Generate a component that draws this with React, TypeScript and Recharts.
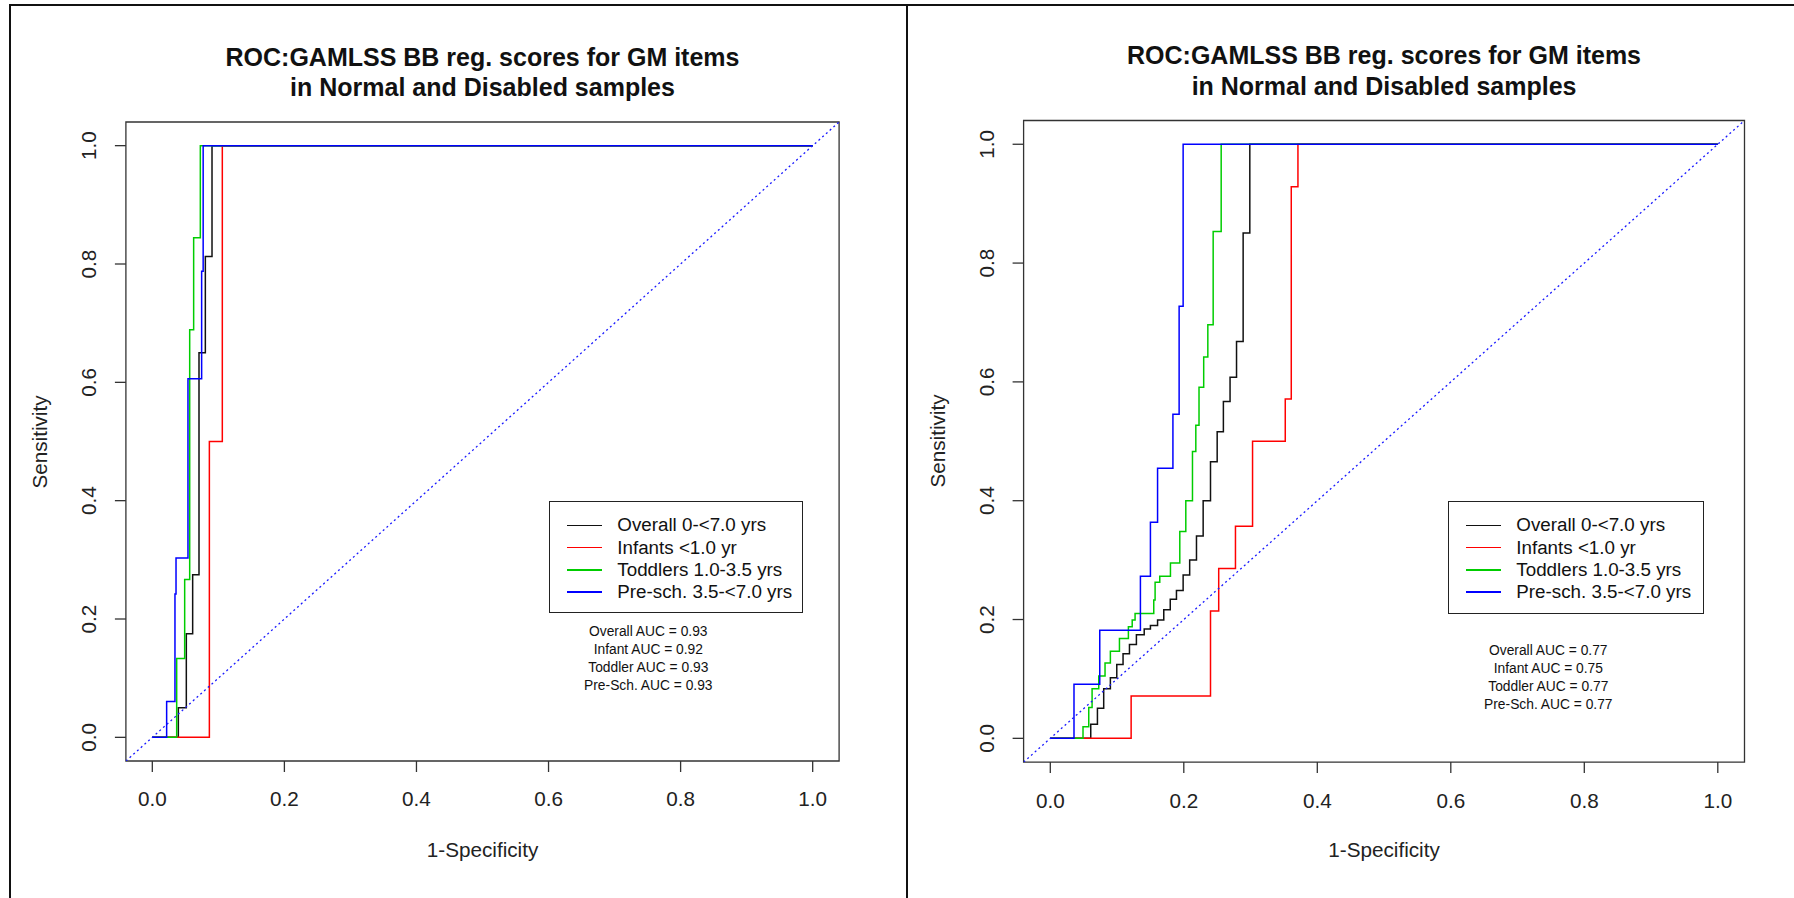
import React from "react";
import { LineChart, Line, XAxis, YAxis, ReferenceArea } from "recharts";

type Pt = [number, number];

const TICKS = [0, 0.2, 0.4, 0.6, 0.8, 1.0];
const SERIES_NAMES = ["Overall 0-<7.0 yrs", "Infants <1.0 yr", "Toddlers 1.0-3.5 yrs", "Pre-sch. 3.5-<7.0 yrs"];
const AUC_NAMES = ["Overall", "Infant", "Toddler", "Pre-Sch."];
const COLORS = ["#111111", "#ff0000", "#00cd00", "#0000ff"];
const TITLE = ["ROC:GAMLSS BB reg. scores for GM items", "in Normal and Disabled samples"];

// left panel: corner points of each ROC staircase (1-specificity, sensitivity)
const leftOverall: Pt[] = [[0, 0], [0.0394, 0.05], [0.0515, 0.175], [0.0611, 0.275], [0.0707, 0.65], [0.0803, 0.8125], [0.0904, 1], [1, 1]];
const leftInfants: Pt[] = [[0, 0], [0.0864, 0.5], [0.106, 1], [1, 1]];
const leftToddlers: Pt[] = [[0, 0], [0.0369, 0.1333], [0.049, 0.2667], [0.0566, 0.6889], [0.0626, 0.8444], [0.0727, 1], [1, 1]];
const leftPresch: Pt[] = [[0, 0], [0.0217, 0.0606], [0.0343, 0.2424], [0.0359, 0.303], [0.054, 0.6061], [0.0747, 0.7879], [0.077, 1], [1, 1]];
const leftAuc = [0.93, 0.92, 0.93, 0.93];

// right panel
const rightOverall: Pt[] = [
  [0, 0], [0.0606, 0.0236], [0.0706, 0.0505], [0.08, 0.0836], [0.09, 0.102], [0.0996, 0.1245],
  [0.109, 0.1425], [0.1186, 0.158], [0.129, 0.1745], [0.1407, 0.184], [0.15, 0.19], [0.1607, 0.199],
  [0.17, 0.2166], [0.1797, 0.234], [0.189, 0.249], [0.199, 0.275], [0.2088, 0.3], [0.219, 0.3406],
  [0.229, 0.4], [0.24, 0.4657], [0.25, 0.516], [0.2593, 0.5668], [0.2693, 0.6077], [0.279, 0.6678],
  [0.2889, 0.8506], [0.2989, 1], [1, 1],
];
const rightInfants: Pt[] = [[0, 0], [0.1211, 0.0714], [0.24, 0.2143], [0.2523, 0.2857], [0.2774, 0.3571], [0.303, 0.5], [0.352, 0.5714], [0.361, 0.9286], [0.371, 1], [1, 1]];
const rightToddlers: Pt[] = [
  [0, 0], [0.049, 0.0196], [0.0576, 0.052], [0.0626, 0.0836], [0.0726, 0.105], [0.082, 0.127],
  [0.09, 0.1464], [0.1036, 0.168], [0.117, 0.188], [0.1227, 0.199], [0.127, 0.21], [0.155, 0.233],
  [0.157, 0.2626], [0.164, 0.273], [0.18, 0.295], [0.194, 0.348], [0.203, 0.4], [0.213, 0.483],
  [0.218, 0.527], [0.2228, 0.591], [0.2298, 0.642], [0.236, 0.696], [0.244, 0.853], [0.256, 1], [1, 1],
];
const rightPresch: Pt[] = [[0, 0], [0.0355, 0.0909], [0.0741, 0.1818], [0.135, 0.2727], [0.15, 0.3636], [0.1607, 0.4545], [0.1837, 0.5455], [0.193, 0.7273], [0.199, 1], [1, 1]];
const rightAuc = [0.77, 0.75, 0.77, 0.77];

const diagonal: Pt[] = [[-0.04, -0.04], [1.04, 1.04]];

const FONT = '"Liberation Sans", Arial, Helvetica, sans-serif';
const H = 898;

const toRows = (pts: Pt[]) => pts.map(([x, y]) => ({ x, y }));

function RocPanel({ geo, curves, auc }: any) {
  const { left, width, plotL, plotR, plotT, plotB, titleY, legend, aucX, aucY } = geo;
  const cx = (plotL + plotR) / 2;
  const xTick = (p: any) => (
    <text x={p.x} y={p.y} dy="0.36em" textAnchor="middle" fontSize={20.7} fontFamily={FONT} fill="#222">
      {Number(p.payload.value).toFixed(1)}
    </text>
  );
  const yTick = (p: any) => (
    <text x={p.x} y={p.y} dy="0.36em" textAnchor="middle" fontSize={20.7} fontFamily={FONT} fill="#222"
      transform={`rotate(-90, ${p.x}, ${p.y})`}>
      {Number(p.payload.value).toFixed(1)}
    </text>
  );
  return (
    <div style={{ position: "absolute", left, top: 0, width, height: H }}>
      <LineChart width={width} height={H}
        margin={{ top: plotT, right: width - plotR, bottom: H - plotB - 60, left: plotL - 80 }}>
        <XAxis type="number" dataKey="x" domain={[-0.04, 1.04]} ticks={TICKS} allowDataOverflow height={60}
          tickSize={11} tickMargin={27} axisLine={false} tickLine={{ stroke: "#333", strokeWidth: 1.3 }} tick={xTick} />
        <YAxis type="number" dataKey="y" domain={[-0.04, 1.04]} ticks={TICKS} allowDataOverflow width={80}
          tickSize={11} tickMargin={26.2} axisLine={false} tickLine={{ stroke: "#333", strokeWidth: 1.3 }} tick={yTick} />
        <ReferenceArea x1={-0.04} x2={1.04} y1={-0.04} y2={1.04} fill="none" stroke="#333" strokeWidth={1.3} />
        {curves.map((c: Pt[], i: number) => (
          <Line key={SERIES_NAMES[i]} data={toRows(c)} dataKey="y" type="stepAfter" stroke={COLORS[i]}
            strokeWidth={1.5} dot={false} activeDot={false} isAnimationActive={false} />
        ))}
        <Line data={toRows(diagonal)} dataKey="y" type="linear" stroke="#1a1aff" strokeWidth={1.3}
          strokeDasharray="2 3" dot={false} activeDot={false} isAnimationActive={false} />
      </LineChart>

      <div style={{ position: "absolute", left: cx - 400, width: 800, top: titleY - 15.15, textAlign: "center",
        fontFamily: FONT, fontWeight: "bold", fontSize: 25, lineHeight: "30.3px", color: "#111" }}>
        {TITLE.map((t) => <div key={t}>{t}</div>)}
      </div>

      <div style={{ position: "absolute", left: plotL - 86, top: (plotT + plotB) / 2, fontFamily: FONT,
        fontSize: 20.7, color: "#222", whiteSpace: "nowrap", transform: "translate(-50%, -50%) rotate(-90deg)" }}>
        Sensitivity
      </div>
      <div style={{ position: "absolute", left: cx - 200, width: 400, top: 850 - 12, lineHeight: "24px",
        textAlign: "center", fontFamily: FONT, fontSize: 20.7, color: "#222" }}>
        1-Specificity
      </div>

      <div style={{ position: "absolute", left: legend.x, top: legend.y, width: legend.w, height: legend.h,
        border: "1.5px solid #222", boxSizing: "border-box" }}>
        {SERIES_NAMES.map((name, i) => (
          <div key={name} style={{ position: "absolute", left: 0, top: 23.6 + i * 22.3 - 11, height: 22, width: "100%" }}>
            <div style={{ position: "absolute", left: 16.5, width: 35, top: 10.3, height: 1.5, background: COLORS[i] }} />
            <div style={{ position: "absolute", left: 67, top: 0, lineHeight: "22px", fontFamily: FONT,
              fontSize: 18.8, color: "#111", whiteSpace: "nowrap" }}>{name}</div>
          </div>
        ))}
      </div>

      <div style={{ position: "absolute", left: aucX - 150, width: 300, top: aucY - 9, textAlign: "center",
        fontFamily: FONT, fontSize: 13.8, lineHeight: "18px", color: "#111" }}>
        {AUC_NAMES.map((n, i) => <div key={n}>{`${n} AUC = ${auc[i].toFixed(2)}`}</div>)}
      </div>
    </div>
  );
}

const leftGeo = {
  left: 0, width: 900, plotL: 125.9, plotR: 839.1, plotT: 122, plotB: 761,
  titleY: 57.3, legend: { x: 549.3, y: 500.7, w: 254, h: 112 }, aucX: 648.3, aucY: 631.7,
};
const rightGeo = {
  left: 900, width: 894, plotL: 123.6, plotR: 844.5, plotT: 120.5, plotB: 762.1,
  titleY: 55.6, legend: { x: 548.3, y: 500.7, w: 255.7, h: 113.3 }, aucX: 648.3, aucY: 651,
};

export default function App() {
  return (
    <div style={{ position: "absolute", left: 0, top: 0, width: 1794, height: H, background: "#fff", overflow: "hidden" }}>
      <RocPanel geo={leftGeo} curves={[leftOverall, leftInfants, leftToddlers, leftPresch]} auc={leftAuc} />
      <RocPanel geo={rightGeo} curves={[rightOverall, rightInfants, rightToddlers, rightPresch]} auc={rightAuc} />
      <div style={{ position: "absolute", left: 9, top: 4, width: 1785, height: 2, background: "#111" }} />
      <div style={{ position: "absolute", left: 9, top: 4, width: 2, height: H, background: "#111" }} />
      <div style={{ position: "absolute", left: 906, top: 4, width: 2, height: H, background: "#111" }} />
    </div>
  );
}
